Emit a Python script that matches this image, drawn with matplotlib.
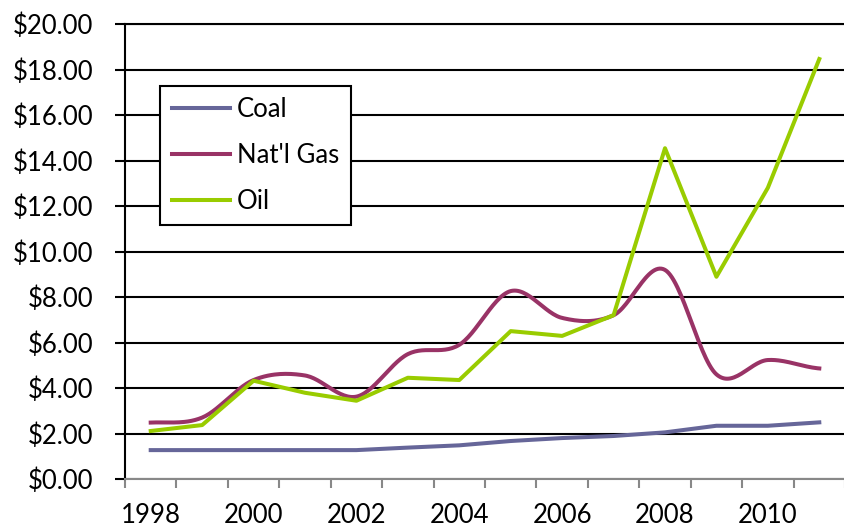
import numpy as np
import matplotlib
matplotlib.use("Agg")
import matplotlib.pyplot as plt

plt.rcParams['font.family'] = ['Lato', 'DejaVu Sans']

years = list(range(1998, 2012))
coal = [1.27, 1.27, 1.27, 1.27, 1.27, 1.38, 1.48, 1.67, 1.80, 1.89, 2.05, 2.34, 2.34, 2.49]
gas = [2.48, 2.70, 4.35, 4.55, 3.62, 5.49, 5.90, 8.26, 7.08, 7.20, 9.19, 4.60, 5.23, 4.86]
oil = [2.11, 2.37, 4.32, 3.79, 3.44, 4.45, 4.35, 6.50, 6.29, 7.20, 14.54, 8.89, 12.80, 18.46]
label_years = [1998, 2000, 2002, 2004, 2006, 2008, 2010]


def smooth(y, n=30):
    # bezier smoothing through every point (spreadsheet style)
    y = np.asarray(y, dtype=float)
    p = np.concatenate([[y[0]], y, [y[-1]]])
    xs, ys = [], []
    t = np.linspace(0, 1, n)
    for i in range(len(y) - 1):
        p0, p3 = p[i + 1], p[i + 2]
        c1 = p0 + (p[i + 2] - p[i]) / 6
        c2 = p3 - (p[i + 3] - p[i + 1]) / 6
        ys.append((1 - t) ** 3 * p0 + 3 * (1 - t) ** 2 * t * c1
                  + 3 * (1 - t) * t ** 2 * c2 + t ** 3 * p3)
        xs.append(i + t)
    return np.concatenate(xs), np.concatenate(ys)


fig = plt.figure(figsize=(8.45, 5.29), dpi=100)
ax = fig.add_axes([125 / 845, 50 / 529, 720 / 845, 455 / 529])

x = np.arange(len(years))
ax.plot(x, coal, color='#666699', lw=2.9, label='Coal', zorder=3)
gx, gy = smooth(gas)
ax.plot(gx, gy, color='#993366', lw=2.9, label="Nat'l Gas", zorder=3)
ax.plot(x, oil, color='#99CC00', lw=2.9, label='Oil', zorder=3)

ax.set_ylim(0, 20)
ax.set_xlim(-0.5, -0.5 + 720 / 52.2)
ax.set_yticks(np.arange(0, 21, 2))
ax.set_yticklabels([f"${v:.2f}" for v in np.arange(0, 21, 2)])
ax.yaxis.grid(True, color='black', lw=1.5)
ax.set_axisbelow(True)

ax.set_xticks(np.arange(-0.5, len(years), 1))
ax.set_xticklabels([])
ax.set_xticks([years.index(y) for y in label_years], minor=True)
ax.set_xticklabels([str(y) for y in label_years], minor=True)

ax.tick_params(axis='y', length=7, width=1.5, color='black', pad=16, labelsize=18.5)
ax.tick_params(axis='x', which='major', length=6.5, width=1.5, color='#888888')
ax.tick_params(axis='x', which='minor', length=0, pad=17, labelsize=18.5)

ax.spines['right'].set_visible(False)
ax.spines['top'].set_color('black')
ax.spines['top'].set_linewidth(1.5)
ax.spines['left'].set_color('black')
ax.spines['left'].set_linewidth(1.5)
ax.spines['bottom'].set_color('#888888')
ax.spines['bottom'].set_linewidth(1.5)

leg = ax.legend(loc='upper left', bbox_to_anchor=(0.0486, 0.864), borderaxespad=0,
                fancybox=False, framealpha=1, edgecolor='black', fontsize=18.5,
                handlelength=2.26, handletextpad=0.28, labelspacing=0.8, borderpad=0.45)
leg.get_frame().set_linewidth(1.5)
leg.set_zorder(5)

fig.savefig('out.png', dpi=100)
